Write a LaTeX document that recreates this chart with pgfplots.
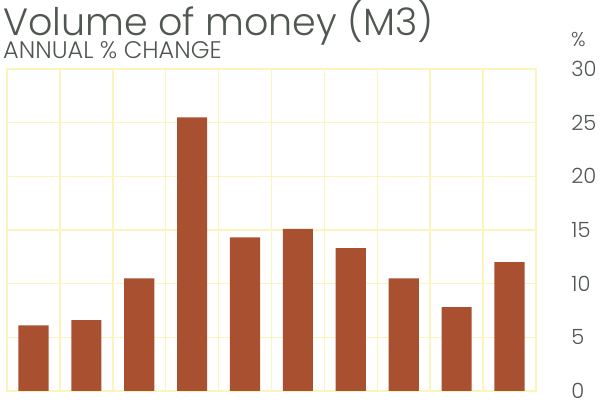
\documentclass[border=0pt]{standalone}
\usepackage{fontspec}
\setmainfont{Poppins}[UprightFont=* Light]
\usepackage{pgfplots}
\pgfplotsset{compat=1.18}
\usetikzlibrary{calc}
\definecolor{gridy}{RGB}{251,244,188}
\definecolor{barbrown}{RGB}{168,80,48}
\definecolor{txt}{RGB}{80,86,80}
\begin{document}
\begin{tikzpicture}[x=1pt,y=1pt]
\begin{axis}[
  name=ax,
  scale only axis, width=529pt, height=322pt,
  xmin=0.5, xmax=10.5, ymin=0, ymax=30,
  xtick={0.5,1.5,...,10.5}, xticklabels={},
  ytick={0,5,...,30},
  yticklabel pos=right,
  grid=major,
  major grid style={gridy, line width=1.5pt},
  axis line style={gridy, line width=1.5pt},
  major tick length=0pt,
  /pgf/number format/assume math mode=true,
  yticklabel style={font=\fontsize{21}{21}\selectfont, text=txt, anchor=west, xshift=32pt},
]
\addplot[ybar, bar width=0.57, fill=barbrown, draw=none] coordinates {
(1,6.1) (2,6.6) (3,10.5) (4,25.5) (5,14.3) (6,15.1) (7,13.3) (8,10.5) (9,7.8) (10,12.0)
};
\end{axis}
\coordinate (O) at ($(ax.south west)+(-7,-15)$);
\path[use as bounding box] (O) rectangle ++(600,406);
\node[anchor=base west, inner sep=0, text=txt, font=\fontsize{38}{38}\selectfont] at ($(O)+(3,370)$) {Volume of money (M3)};
\node[anchor=base west, inner sep=0, text=txt, font=\fontsize{24}{24}\selectfont] at ($(O)+(3,347)$) {ANNUAL \% CHANGE};
\node[anchor=base west, inner sep=0, text=txt, font=\fontsize{20}{20}\selectfont] at ($(O)+(571,359)$) {\%};
\end{tikzpicture}
\end{document}
